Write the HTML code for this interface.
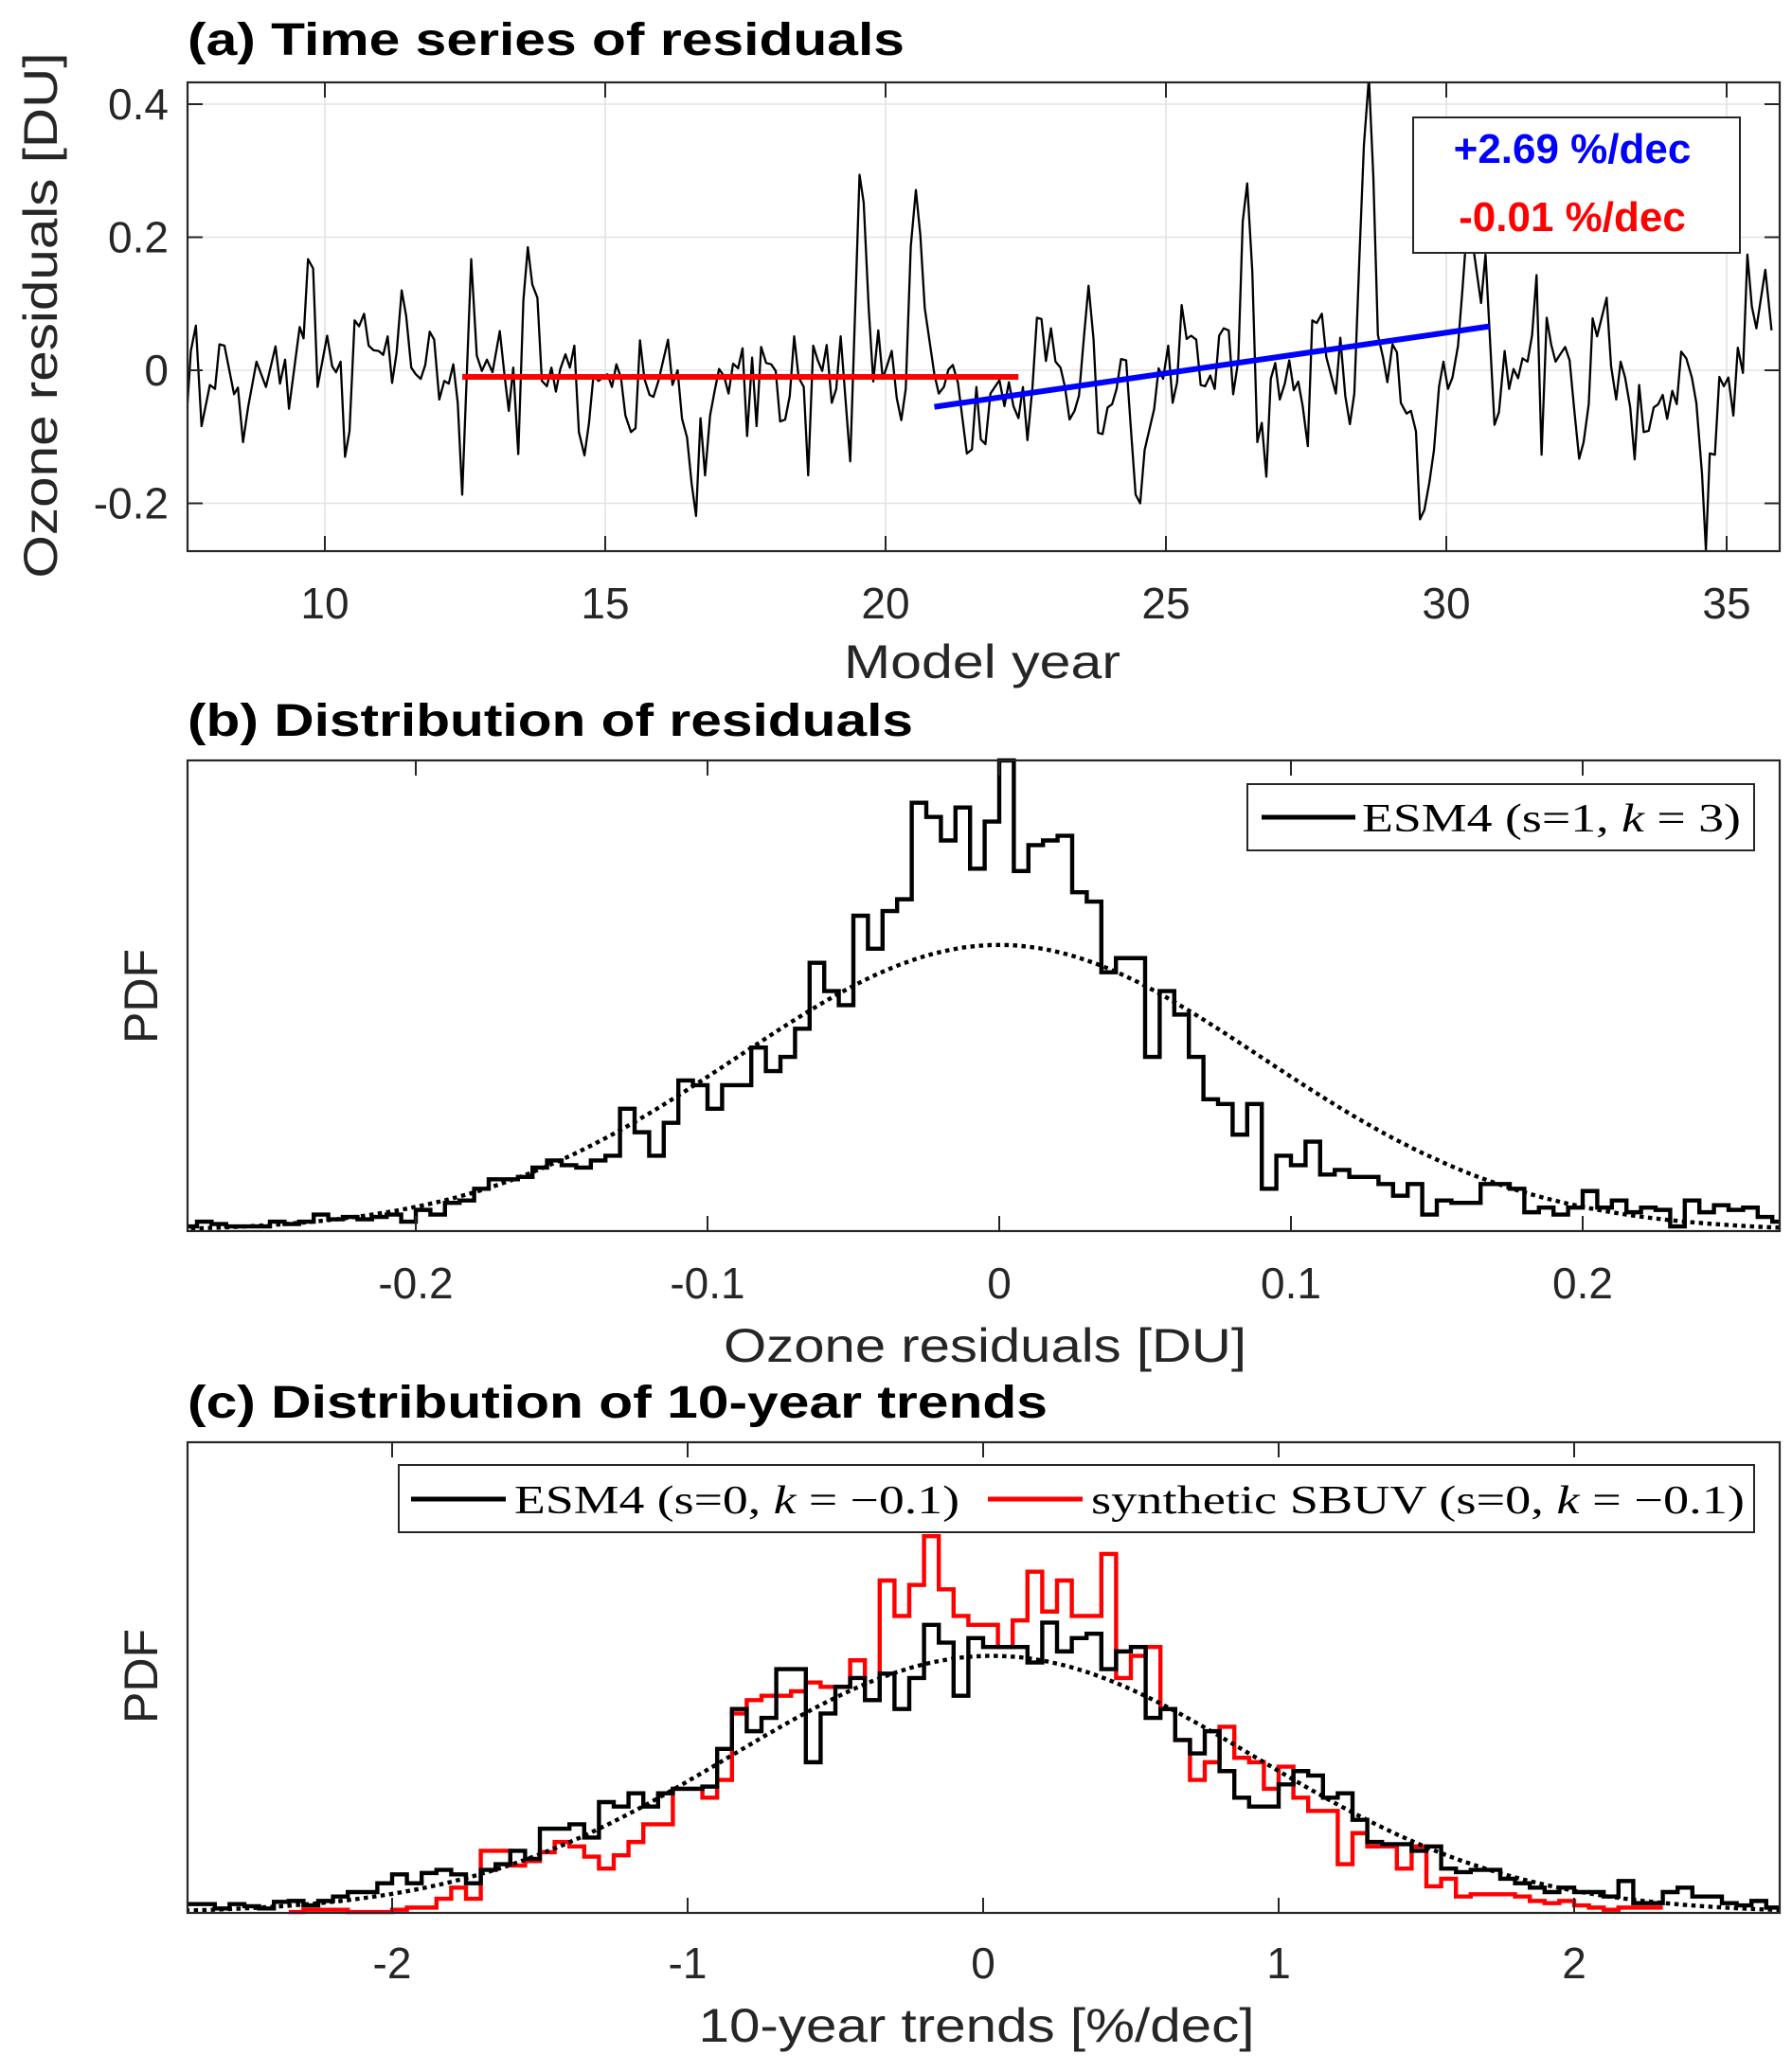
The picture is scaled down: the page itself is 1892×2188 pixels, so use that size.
<!DOCTYPE html>
<html><head><meta charset="utf-8"><style>
html,body{margin:0;padding:0;background:#fff}
svg{display:block}
text{font-family:"Liberation Sans",sans-serif}
.tk{font-size:46px;fill:#262626}
.lbl{font-size:50px;fill:#262626}
.ttl{font-size:48px;font-weight:bold;fill:#000}
.ser{font-family:"Liberation Serif",serif;font-size:42px;fill:#000}
</style></head><body>
<svg id="fig" width="1892" height="2188" viewBox="0 0 1892 2188" xmlns="http://www.w3.org/2000/svg">
<g id="pa"></g>
<g id="pb"></g>
<g id="pc"></g>
</svg>
<script>
// ---------- Panel (a) data ----------
const tsYears = [7.52,7.61,7.70,7.80,7.95,8.04,8.12,8.21,8.38,8.45,8.54,8.63,8.78,8.95,9.12,9.20,9.29,9.36,9.55,9.62,9.70,9.79,9.87,10.04,10.13,10.20,10.28,10.36,10.44,10.53,10.61,10.70,10.78,10.87,10.96,11.04,11.12,11.20,11.28,11.37,11.45,11.54,11.62,11.71,11.79,11.87,11.95,12.04,12.13,12.21,12.29,12.37,12.45,12.61,12.71,12.80,12.89,12.99,13.12,13.20,13.28,13.36,13.45,13.54,13.62,13.70,13.79,13.87,13.96,14.04,14.12,14.20,14.29,14.37,14.45,14.53,14.63,14.71,14.79,14.88,15.04,15.12,15.20,15.28,15.36,15.46,15.54,15.62,15.70,15.79,15.86,15.95,16.12,16.20,16.29,16.37,16.46,16.54,16.62,16.70,16.78,16.87,16.95,17.03,
17.12,17.20,17.28,17.37,17.45,17.53,17.62,17.70,17.78,17.87,17.96,18.04,18.12,18.21,18.29,18.37,18.45,18.54,18.62,18.71,18.79,18.87,18.95,19.04,19.12,19.20,19.37,19.535,19.61,19.70,19.78,19.87,19.95,20.03,20.11,20.20,20.28,20.36,20.45,20.54,20.62,20.70,20.87,20.95,21.04,21.12,21.20,21.29,21.45,21.54,21.62,21.70,21.78,21.87,21.95,22.03,22.12,22.20,22.28,22.37,22.45,22.53,22.62,22.70,22.78,22.86,22.95,23.03,23.12,23.20,23.28,23.37,23.45,23.54,23.62,23.71,23.79,23.87,23.96,24.04,24.12,24.20,24.29,24.37,24.46,24.54,24.62,24.79,24.87,24.95,25.04,25.12,25.20,25.28,25.37,25.45,25.54,25.62,25.70,25.79,25.87,25.95,26.03,26.12,26.20,26.29,26.37,26.45,26.54,
26.63,26.71,26.79,26.87,26.95,27.03,27.12,27.20,27.28,27.36,27.44,27.53,27.61,27.69,27.78,27.86,27.95,28.03,28.11,28.20,28.28,28.36,28.45,28.53,28.62,28.70,28.78,28.87,28.95,29.04,29.12,29.19,29.29,29.37,29.46,29.53,29.61,29.70,29.78,29.87,29.95,30.03,30.11,30.21,30.29,30.39,30.62,30.70,30.86,30.94,31.04,31.12,31.20,31.28,31.36,31.45,31.53,31.61,31.70,31.79,31.87,31.95,32.04,32.12,32.20,32.28,32.37,32.45,32.54,32.61,32.69,32.86,32.94,33.03,33.11,33.19,33.28,33.36,33.44,33.52,33.61,33.70,33.78,33.86,33.94,34.03,34.11,34.19,34.28,34.38,34.46,34.56,34.63,34.70,34.79,34.87,34.95,35.03,35.12,35.20,35.29,35.37,35.45,35.53,35.69,35.80];
const tsValues = [-0.089,0.029,0.067,-0.084,-0.022,-0.028,0.039,0.037,-0.036,-0.026,-0.108,-0.056,0.013,-0.025,0.036,-0.020,0.016,-0.058,0.065,0.048,0.167,0.153,-0.025,0.052,0.006,-0.003,0.013,-0.130,-0.092,0.075,0.066,0.085,0.037,0.030,0.029,0.023,0.051,-0.019,0.027,0.120,0.082,0.004,-0.006,-0.013,0.008,0.058,0.046,-0.044,-0.016,-0.020,0.009,-0.049,-0.187,0.167,0.022,-0.001,0.016,-0.003,0.059,-0.004,-0.061,0.004,-0.126,0.105,0.185,0.129,0.109,-0.016,-0.024,0.004,-0.032,0.002,0.024,0.004,0.037,-0.093,-0.128,-0.080,-0.008,-0.016,-0.006,-0.025,0.009,-0.011,-0.068,-0.093,-0.087,0.045,-0.013,-0.037,-0.040,-0.016,0.046,-0.022,0.000,-0.073,-0.101,-0.170,-0.219,-0.072,-0.158,-0.068,-0.032,0.002,
-0.009,-0.035,0.010,0.003,0.033,-0.099,0.019,-0.084,0.035,0.011,0.009,-0.001,-0.077,-0.074,-0.039,0.051,-0.011,-0.025,-0.158,0.037,0.015,-0.001,0.038,-0.049,-0.028,0.051,-0.137,0.294,0.252,0.093,-0.017,0.060,-0.013,0.008,0.029,-0.042,-0.075,-0.028,0.186,0.271,0.203,0.093,-0.006,-0.035,-0.025,0.001,0.008,-0.019,-0.125,-0.119,-0.025,-0.104,-0.111,-0.035,-0.025,-0.015,-0.054,-0.018,-0.054,-0.072,-0.025,-0.105,-0.025,0.079,0.077,0.014,0.063,0.013,0.004,-0.025,-0.074,-0.061,-0.038,0.053,0.127,0.046,-0.094,-0.096,-0.056,-0.051,-0.028,0.017,0.015,-0.082,-0.187,-0.200,-0.120,-0.058,0.003,-0.013,0.037,-0.049,-0.018,0.098,0.047,0.052,0.046,-0.022,-0.024,-0.008,-0.028,0.052,0.063,0.060,-0.036,0.015,0.224,0.281,0.148,
-0.108,-0.079,-0.160,-0.013,0.011,-0.044,-0.020,0.015,-0.030,-0.017,-0.054,-0.114,0.075,0.071,0.085,0.020,-0.009,-0.035,0.049,-0.039,-0.081,-0.035,0.167,0.338,0.44,0.290,0.053,0.020,-0.018,0.039,0.027,-0.049,-0.065,-0.061,-0.092,-0.224,-0.210,-0.168,-0.120,-0.025,0.013,-0.028,-0.011,0.037,0.124,0.24,0.101,0.174,-0.082,-0.063,0.029,-0.028,0.002,-0.012,0.018,0.013,0.053,0.143,-0.127,0.079,0.039,0.013,0.025,0.035,0.015,-0.058,-0.133,-0.108,-0.051,0.078,0.051,0.109,0.006,-0.044,0.013,-0.011,-0.056,-0.134,-0.022,-0.093,-0.091,-0.056,-0.051,-0.037,-0.073,-0.031,-0.051,0.028,0.018,-0.011,-0.049,-0.156,-0.27,-0.125,-0.127,-0.010,-0.024,-0.011,-0.068,0.034,-0.004,0.174,0.096,0.063,0.151,0.060];
const redFitYears = [12.45, 22.37];
const redFitValues = [-0.010, -0.010];
const blueFitYears = [20.87, 30.77];
const blueFitValues = [-0.055, 0.066];
const aXTicks = [10,15,20,25,30,35];
const aYTicks = [0.4,0.2,0,-0.2];
const aYTickLabels = ["0.4","0.2","0","-0.2"];
const trendLabels = ["+2.69 %/dec","-0.01 %/dec"];

// ---------- Panel (b) data ----------
const bBinStart = -0.28;
const bBinWidth = 0.005;
const bCounts = [0.1,0.2,0.15,0.1,0.1,0.1,0.2,0.15,0.2,0.35,0.25,0.3,0.25,0.3,0.35,0.2,0.45,0.35,0.6,0.65,0.9,1.1,1.1,1.15,1.35,1.5,1.4,1.35,1.5,1.6,2.6,2.1,1.6,2.3,3.2,3.1,2.6,3.1,3.1,3.9,3.4,3.7,4.3,5.7,5.1,4.8,6.7,6.0,6.8,7.05,9.1,8.8,8.3,9.0,7.7,8.7,10.0,7.65,8.2,8.3,8.4,7.2,7.0,5.5,5.8,5.8,3.7,5.1,4.6,3.7,2.8,2.7,2.05,2.7,0.9,1.6,1.4,1.9,1.2,1.3,1.15,1.15,1.0,0.75,1.0,0.35,0.65,0.6,0.6,1.0,1.0,0.9,0.4,0.5,0.35,0.5,0.85,0.5,0.65,0.4,0.5,0.45,0.1,0.65,0.4,0.55,0.45,0.5,0.3,0.2];
const bFitMean = 0.0, bFitSigma = 0.09, bFitPeak = 6.08;
const bXTicks = [-0.2,-0.1,0,0.1,0.2];
const bXTickLabels = ["-0.2","-0.1","0","0.1","0.2"];

// ---------- Panel (c) data ----------
const cBinStart = -2.7;
const cBinWidth = 0.05;
const cEsm4 = [0.2,0.2,0.1,0.2,0.15,0.1,0.25,0.27,0.17,0.27,0.37,0.47,0.47,0.67,0.87,0.67,0.9,0.97,0.87,0.67,0.97,1.1,1.4,1.22,1.9,1.9,2.0,1.7,2.5,2.4,2.7,2.4,2.7,2.8,2.8,2.85,3.7,4.6,4.1,4.4,5.5,5.5,3.4,4.5,5.1,5.3,4.8,5.4,4.6,5.3,6.5,6.1,4.9,6.2,6.0,6.0,6.0,5.65,6.55,5.9,6.2,6.3,5.5,5.9,6.0,4.4,4.6,3.9,3.6,4.1,3.2,2.6,2.4,2.4,2.9,3.2,3.1,2.6,2.7,2.1,1.6,1.55,1.55,1.4,1.5,1.0,0.92,0.97,0.97,0.77,0.67,0.57,0.47,0.57,0.47,0.47,0.37,0.72,0.22,0.22,0.47,0.57,0.37,0.37,0.22,0.17,0.27,0.12];
const cSbuv = [null,null,null,null,null,null,null,0.02,0.07,0.07,0.07,0.02,0.02,0.02,0.07,0.12,0.12,0.32,0.57,0.32,1.4,1.4,1.07,1.17,1.37,1.6,1.5,1.27,1.0,1.3,1.6,2.0,2.0,2.8,2.8,2.6,3.0,4.5,4.8,4.9,4.9,5.0,5.2,5.1,5.1,5.7,4.8,7.5,6.7,7.4,8.5,7.3,6.7,6.5,6.5,6.0,6.6,7.7,6.8,7.5,6.7,6.7,8.1,5.3,5.8,6.0,4.6,3.9,3.0,3.4,4.2,3.5,3.4,2.8,3.3,2.6,2.3,2.3,1.1,1.8,1.5,1.5,1.0,1.5,0.6,0.77,0.37,0.42,0.42,0.42,0.37,0.27,0.22,0.27,0.17,0.12,0.07,0.12,0.12,0.12,null,null,null,null,null,null,null,null];
const cFitMean = 0.03, cFitSigma = 0.89, cFitPeak = 5.8;
const cXTicks = [-2,-1,0,1,2];
const cXTickLabels = ["-2","-1","0","1","2"];

// ---------- helpers ----------
const NS = "http://www.w3.org/2000/svg";
function mk(parent, tag, attrs, txt){
  const e = document.createElementNS(NS, tag);
  for (const k in attrs) e.setAttribute(k, attrs[k]);
  if (txt !== undefined) e.textContent = txt;
  parent.appendChild(e);
  return e;
}
function lin(d0,d1,r0,r1){ return v => r0 + (v-d0)*(r1-r0)/(d1-d0); }

function axesBox(g, L, T, R, B, name){
  const r = mk(g,'rect',{x:L,y:T,width:R-L,height:B-T,fill:'none',stroke:'#262626','stroke-width':2.2});
  
  
}
function stairs(g, start, width, vals, X, Y, color, name){
  let d = '', open = false;
  for (let i=0;i<vals.length;i++){
    const v = vals[i];
    if (v === null){ open = false; continue; }
    const x0 = X(start+i*width), x1 = X(start+(i+1)*width), y = Y(v);
    if (!open){ d += `M${x0},${y}`; open = true; } else { d += `L${x0},${y}`; }
    d += `L${x1},${y}`;
  }
  const p = mk(g,'path',{d:d,fill:'none',stroke:color,'stroke-width':4.4,'stroke-linejoin':'miter'});
  
  
}
function gaussPath(g, mu, sig, pk, x0, x1, X, Y, name){
  let d='';
  for (let i=0;i<=300;i++){
    const v = x0 + (x1-x0)*i/300;
    const h = pk*Math.exp(-((v-mu)*(v-mu))/(2*sig*sig));
    d += (i?'L':'M')+X(v).toFixed(1)+','+Y(h).toFixed(1);
  }
  const p = mk(g,'path',{d:d,fill:'none',stroke:'#000','stroke-width':4.4,'stroke-dasharray':'4.5,4.5'});
  
  
}

// ---------- Panel (a) ----------
(function(){
  const g = document.getElementById('pa');
  const L=198,R=1879,T=87,B=582;
  const Y = lin(0,0.2,391,250.5);
  const Xs = lin(10,35,343,1823);
  const t = mk(g,'text',{x:198,y:58,class:'ttl',textLength:757,lengthAdjust:'spacingAndGlyphs'},'(a) Time series of residuals');
   
  aXTicks.forEach(v=>{
    const l = mk(g,'line',{x1:Xs(v),x2:Xs(v),y1:T,y2:B,stroke:'#e3e3e3','stroke-width':1.6});
     
  });
  aYTicks.forEach(v=>{
    const l = mk(g,'line',{x1:L,x2:R,y1:Y(v),y2:Y(v),stroke:'#e3e3e3','stroke-width':1.6});
     
  });
  const clip = mk(g,'clipPath',{id:'ca'}); mk(clip,'rect',{x:L,y:T,width:R-L,height:B-T});
  let d='';
  tsYears.forEach((yr,i)=>{ d += (i?'L':'M')+Xs(yr).toFixed(1)+','+Y(tsValues[i]).toFixed(1); });
  const ln = mk(g,'path',{d:d,fill:'none',stroke:'#000','stroke-width':2.3,'clip-path':'url(#ca)','stroke-linejoin':'round'});
   
  const rf = mk(g,'line',{x1:Xs(redFitYears[0]),y1:Y(redFitValues[0]),x2:Xs(redFitYears[1]),y2:Y(redFitValues[1]),stroke:'#ff0000','stroke-width':6});
   
  const bf = mk(g,'line',{x1:Xs(blueFitYears[0]),y1:Y(blueFitValues[0]),x2:Xs(blueFitYears[1]),y2:Y(blueFitValues[1]),stroke:'#0000ff','stroke-width':6});
   
  axesBox(g,L,T,R,B,'panel-a-axes');
  aXTicks.forEach(v=>{
    mk(g,'line',{x1:Xs(v),x2:Xs(v),y1:B,y2:B-16,stroke:'#262626','stroke-width':2});
    mk(g,'line',{x1:Xs(v),x2:Xs(v),y1:T,y2:T+16,stroke:'#262626','stroke-width':2});
    const tl = mk(g,'text',{x:Xs(v),y:653,class:'tk','text-anchor':'middle'},String(v));
     
  });
  aYTicks.forEach((v,i)=>{
    mk(g,'line',{x1:L,x2:L+16,y1:Y(v),y2:Y(v),stroke:'#262626','stroke-width':2});
    mk(g,'line',{x1:R,x2:R-16,y1:Y(v),y2:Y(v),stroke:'#262626','stroke-width':2});
    const tl = mk(g,'text',{x:178,y:Y(v)+16,class:'tk','text-anchor':'end'},aYTickLabels[i]);
     
  });
  const xl = mk(g,'text',{x:1037,y:716,class:'lbl','text-anchor':'middle',textLength:292,lengthAdjust:'spacingAndGlyphs'},'Model year');
   
  const yl = mk(g,'text',{x:0,y:0,class:'lbl','text-anchor':'middle',transform:'translate(60,333) rotate(-90)',textLength:555,lengthAdjust:'spacingAndGlyphs'},'Ozone residuals [DU]');
   
  const box = mk(g,'rect',{x:1492,y:124,width:345,height:143,fill:'#fff',stroke:'#262626','stroke-width':2});
   
  const t1 = mk(g,'text',{x:1660,y:172,'text-anchor':'middle','font-size':44,'font-weight':'bold',fill:'#0000ff'},trendLabels[0]);
   
  const t2 = mk(g,'text',{x:1660,y:244,'text-anchor':'middle','font-size':44,'font-weight':'bold',fill:'#ff0000'},trendLabels[1]);
   
})();

// ---------- Panel (b) ----------
(function(){
  const g = document.getElementById('pb');
  const L=198,R=1879,T=803,B=1300;
  const X = lin(0,0.1,1055,1363), Y = lin(0,10,B,T);
  const t = mk(g,'text',{x:198,y:777,class:'ttl',textLength:766,lengthAdjust:'spacingAndGlyphs'},'(b) Distribution of residuals');
   
  const clip = mk(g,'clipPath',{id:'cb'}); mk(clip,'rect',{x:L,y:T-4,width:R-L,height:B-T+4});
  const gg = mk(g,'g',{'clip-path':'url(#cb)'});
  stairs(gg,bBinStart,bBinWidth,bCounts,X,Y,'#000','esm4-histogram');
  gaussPath(gg,bFitMean,bFitSigma,bFitPeak,-0.28,0.27,X,Y,'normal-fit-curve');
  axesBox(g,L,T,R,B,'panel-b-axes');
  bXTicks.forEach((v,i)=>{
    mk(g,'line',{x1:X(v),x2:X(v),y1:B,y2:B-16,stroke:'#262626','stroke-width':2});
    mk(g,'line',{x1:X(v),x2:X(v),y1:T,y2:T+16,stroke:'#262626','stroke-width':2});
    const tl = mk(g,'text',{x:X(v),y:1371,class:'tk','text-anchor':'middle'},bXTickLabels[i]);
     
  });
  const xl = mk(g,'text',{x:1040,y:1438,class:'lbl','text-anchor':'middle',textLength:552,lengthAdjust:'spacingAndGlyphs'},'Ozone residuals [DU]');
   
  const yl = mk(g,'text',{x:0,y:0,class:'lbl','text-anchor':'middle',transform:'translate(166,1052) rotate(-90)'},'PDF');
   
  const lb = mk(g,'rect',{x:1317,y:828,width:535,height:70,fill:'#fff',stroke:'#262626','stroke-width':2});
   
  const ls = mk(g,'line',{x1:1332,x2:1431,y1:863,y2:863,stroke:'#000','stroke-width':5});
   
  const lt = mk(g,'text',{x:1438,y:878,class:'ser',textLength:400,lengthAdjust:'spacingAndGlyphs'});
  lt.innerHTML = 'ESM4 (s=1, <tspan font-style="italic">k</tspan> = 3)';
   
})();

// ---------- Panel (c) ----------
(function(){
  const g = document.getElementById('pc');
  const L=198,R=1879,T=1523,B=2020;
  const X = lin(0,1,1038,1350), Y = lin(0,1,B,B-46.8);
  const t = mk(g,'text',{x:198,y:1497,class:'ttl',textLength:908,lengthAdjust:'spacingAndGlyphs'},'(c) Distribution of 10-year trends');
   
  const clip = mk(g,'clipPath',{id:'cc'}); mk(clip,'rect',{x:L,y:T,width:R-L,height:B-T+3});
  const gg = mk(g,'g',{'clip-path':'url(#cc)'});
  stairs(gg,cBinStart,cBinWidth,cSbuv,X,Y,'#ff0000','synthetic-sbuv-histogram');
  stairs(gg,cBinStart,cBinWidth,cEsm4,X,Y,'#000','esm4-histogram');
  gaussPath(gg,cFitMean,cFitSigma,cFitPeak,-2.7,2.7,X,Y,'normal-fit-curve');
  axesBox(g,L,T,R,B,'panel-c-axes');
  cXTicks.forEach((v,i)=>{
    mk(g,'line',{x1:X(v),x2:X(v),y1:B,y2:B-16,stroke:'#262626','stroke-width':2});
    mk(g,'line',{x1:X(v),x2:X(v),y1:T,y2:T+16,stroke:'#262626','stroke-width':2});
    const tl = mk(g,'text',{x:X(v),y:2089,class:'tk','text-anchor':'middle'},cXTickLabels[i]);
     
  });
  const xl = mk(g,'text',{x:1031,y:2156,class:'lbl','text-anchor':'middle',textLength:587,lengthAdjust:'spacingAndGlyphs'},'10-year trends [%/dec]');
   
  const yl = mk(g,'text',{x:0,y:0,class:'lbl','text-anchor':'middle',transform:'translate(166,1770) rotate(-90)'},'PDF');
   
  const lb = mk(g,'rect',{x:421,y:1547,width:1431,height:71,fill:'#fff',stroke:'#262626','stroke-width':2});
   
  const s1 = mk(g,'line',{x1:434,x2:534,y1:1583,y2:1583,stroke:'#000','stroke-width':5});
   
  const t1 = mk(g,'text',{x:543,y:1598,class:'ser',textLength:470,lengthAdjust:'spacingAndGlyphs'});
  t1.innerHTML = 'ESM4 (s=0, <tspan font-style="italic">k</tspan> = −0.1)';
   
  const s2 = mk(g,'line',{x1:1043,x2:1143,y1:1583,y2:1583,stroke:'#ff0000','stroke-width':5});
   
  const t2 = mk(g,'text',{x:1152,y:1598,class:'ser',textLength:690,lengthAdjust:'spacingAndGlyphs'});
  t2.innerHTML = 'synthetic SBUV (s=0, <tspan font-style="italic">k</tspan> = −0.1)';
   
})();
</script>
</body></html>
